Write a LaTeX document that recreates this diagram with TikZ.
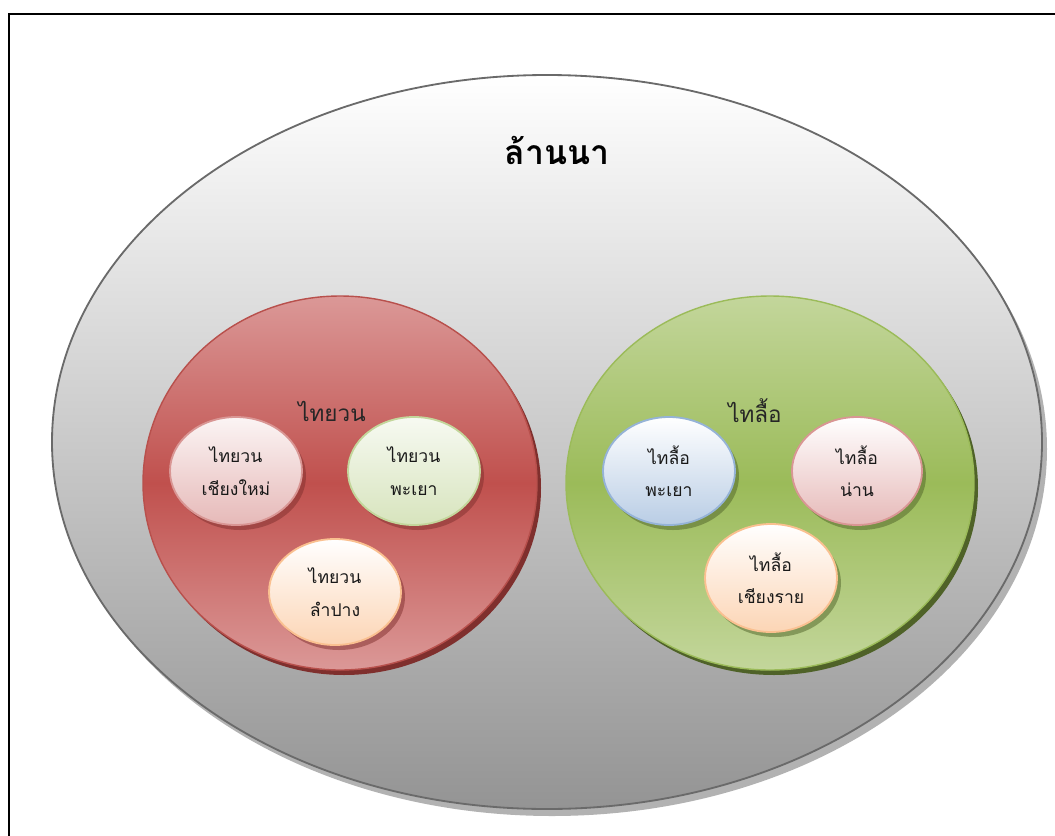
\documentclass[tikz,border=0pt]{standalone}
\usepackage{fontspec}
\newfontfamily\thaifont[Script=Thai]{Loma}
\definecolor{lannaedge}{HTML}{6A6A6A}
\definecolor{yuanlight}{HTML}{DB9897}
\definecolor{yuandark}{HTML}{C0504D}
\definecolor{yuanedge}{HTML}{B8504C}
\definecolor{yuanshadow}{HTML}{7F2F2D}
\definecolor{luelight}{HTML}{C3D69B}
\definecolor{luedark}{HTML}{9BBB59}
\definecolor{lueedge}{HTML}{9BBB59}
\definecolor{lueshadow}{HTML}{4F6228}
\definecolor{pinkedge}{HTML}{D99694}
\definecolor{pinkfill}{HTML}{E6B9B8}
\definecolor{greenedge}{HTML}{C3D69B}
\definecolor{greenfill}{HTML}{D7E4BD}
\definecolor{orangeedge}{HTML}{FAC090}
\definecolor{orangefill}{HTML}{FCD5B5}
\definecolor{blueedge}{HTML}{95B3D7}
\definecolor{bluefill}{HTML}{B9CDE5}
\tikzset{
  bubble/.style={line width=1.3pt},
  bubbleshadow/.style={opacity=0.5},
  bubbletext/.style={font=\thaifont\fontsize{12.5}{23}\selectfont, align=center, text=black!90},
  grouptext/.style={font=\thaifont\fontsize{16}{18}\selectfont, text=black!85},
}
\begin{document}
\begin{tikzpicture}[x=0.025cm,y=-0.025cm]
\clip (0,0) rectangle (1055,836);
\fill[white] (0,0) rectangle (1055,836);
\draw[line width=1.5pt] (9,14) rectangle (1080,860);

% outer region
\fill[black!30] (552,449) ellipse (495 and 367);
\shade[top color=white, bottom color=black!42, draw=lannaedge, line width=1.3pt]
    (547,442) ellipse (495 and 367);
\node[font=\thaifont\bfseries\fontsize{24}{28}\selectfont] (lanna) at (557,150) {ล้านนา};

% two groups
\fill[yuanshadow] (344,488) ellipse (197 and 187);
\shade[top color=yuanlight, bottom color=yuanlight, middle color=yuandark, draw=yuanedge, line width=1pt]
    (340,483) ellipse (197 and 187);
\fill[lueshadow] (774,488) ellipse (204 and 187);
\shade[top color=luelight, bottom color=luelight, middle color=luedark, draw=lueedge, line width=1pt]
    (770,483) ellipse (204 and 187);
\node[grouptext] (yuan) at (332,411) {ไทยวน};
\node[grouptext] (lue) at (755,411) {ไทลื้อ};

% Tai Yuan
\fill[bubbleshadow, yuanshadow] (240,476) ellipse (66 and 54);
\shade[bubble, shading angle=225, top color=white!85!pinkfill, bottom color=pinkfill, draw=pinkedge]
    (236,471) ellipse (66 and 54);
\node[bubbletext] (yuancm) at (236,471) {ไทยวน\\เชียงใหม่};
\fill[bubbleshadow, yuanshadow] (418,476) ellipse (66 and 54);
\shade[bubble, shading angle=225, top color=white!80!greenfill, bottom color=greenfill, draw=greenedge]
    (414,471) ellipse (66 and 54);
\node[bubbletext] (yuanpy) at (414,471) {ไทยวน\\พะเยา};
\fill[bubbleshadow, yuanshadow] (339,597) ellipse (66 and 53);
\shade[bubble, top color=white, bottom color=orangefill, draw=orangeedge]
    (335,592) ellipse (66 and 53);
\node[bubbletext] (yuanlp) at (335,592) {ไทยวน\\ลำปาง};

% Tai Lue
\fill[bubbleshadow, lueshadow] (673,476) ellipse (66 and 54);
\shade[bubble, top color=white, bottom color=bluefill, draw=blueedge]
    (669,471) ellipse (66 and 54);
\node[bubbletext] (luepy) at (669,471) {ไทลื้อ\\พะเยา};
\fill[bubbleshadow, lueshadow] (861,476) ellipse (65 and 54);
\shade[bubble, top color=white, bottom color=pinkfill, draw=pinkedge]
    (857,471) ellipse (65 and 54);
\node[bubbletext] (luenan) at (857,471) {ไทลื้อ\\น่าน};
\fill[bubbleshadow, lueshadow] (775,583) ellipse (66 and 54);
\shade[bubble, top color=white, bottom color=orangefill, draw=orangeedge]
    (771,578) ellipse (66 and 54);
\node[bubbletext] (luecr) at (771,578) {ไทลื้อ\\เชียงราย};
\end{tikzpicture}
\end{document}
